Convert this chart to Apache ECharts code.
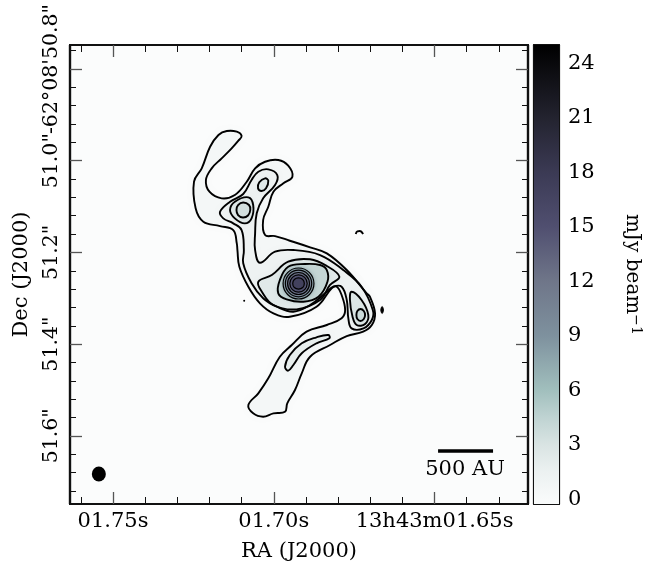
<!DOCTYPE html>
<html><head><meta charset="utf-8">
<style>html,body{margin:0;padding:0;background:#fff}#c{width:653px;height:562px}</style>
<script src="https://cdn.jsdelivr.net/npm/echarts@6/dist/echarts.min.js"></script>
</head><body><div id="c"></div>
<script>
// Axis ranges and ticks (RA seconds, Dec arcseconds)
const raRange = [1.62093, 1.76337];
const decRange = [50.7476, 51.7487];
const raMajor = [1.75, 1.70, 1.65];
const raMajorLabels = ['01.75s', '01.70s', '13h43m01.65s'];
const raMinor = [1.76, 1.74, 1.73, 1.72, 1.71, 1.69, 1.68, 1.67, 1.66, 1.64, 1.63];
const decMajor = [50.8, 51.0, 51.2, 51.4, 51.6];
const decMajorLabels = ['-62°08\'50.8"', '51.0"', '51.2"', '51.4"', '51.6"'];
const decMinor = [50.76, 50.84, 50.88, 50.92, 50.96, 51.04, 51.08, 51.12, 51.16, 51.24, 51.28, 51.32, 51.36, 51.44, 51.48, 51.52, 51.56, 51.64, 51.68, 51.72];
const cbarRange = [-0.26, 25];
const cbarTicks = [0, 3, 6, 9, 12, 15, 18, 21, 24];
const cbarValues = [0, 1.5, 3, 4.5, 6, 9, 12, 15, 18, 21, 25];
const cbarColors = ['#f8fafa', '#ecf1f1', '#d9e4e3', '#bfd3d2', '#a1bfbd', '#7e919e', '#6f7689', '#504f70', '#3b3a54', '#23232f', '#000000'];

// Contours, [RA, Dec]
const contourOuter = [[1.7146,50.9352],[1.7115,50.9367],[1.7100,50.9461],[1.7110,50.9563],[1.7131,50.9729],[1.7162,50.9948],[1.7193,51.0166],[1.7211,51.0421],[1.7200,51.0676],[1.7162,51.0820],[1.7121,51.0748],[1.7084,51.0458],[1.7058,51.0166],[1.7027,51.0022],[1.6986,50.9985],[1.6955,51.0109],[1.6942,51.0349],[1.6970,51.0493],[1.7001,51.0676],[1.7017,51.1003],[1.7033,51.1293],[1.7027,51.1621],[1.6996,51.1643],[1.6950,51.1745],[1.6887,51.1889],[1.6835,51.2020],[1.6773,51.2384],[1.6711,51.2892],[1.6701,51.2966],[1.6685,51.3328],[1.6695,51.3583],[1.6722,51.3729],[1.6773,51.3824],[1.6825,51.4020],[1.6887,51.4275],[1.6913,51.4637],[1.6934,51.5001],[1.6958,51.5291],[1.6965,51.5474],[1.7001,51.5509],[1.7033,51.5583],[1.7064,51.5509],[1.7079,51.5328],[1.7048,51.5073],[1.7017,51.4746],[1.6981,51.4275],[1.6944,51.4020],[1.6898,51.3729],[1.6835,51.3583],[1.6789,51.3437],[1.6778,51.3256],[1.6789,51.2929],[1.6804,51.2748],[1.6820,51.2783],[1.6867,51.3184],[1.6950,51.3402],[1.7001,51.3328],[1.7043,51.3110],[1.7079,51.2748],[1.7107,51.2312],[1.7113,51.1948],[1.7115,51.1802],[1.7126,51.1512],[1.7167,51.1425],[1.7219,51.1330],[1.7243,51.1038],[1.7248,51.0458],[1.7224,51.0166],[1.7198,50.9696],[1.7172,50.9438]];
const contourSecond = [[1.7167,51.1112],[1.7136,51.0894],[1.7095,51.0726],[1.7069,51.0421],[1.7048,51.0240],[1.7017,51.0188],[1.6989,51.0312],[1.6996,51.0530],[1.7033,51.0820],[1.7053,51.1147],[1.7058,51.1584],[1.7058,51.1948],[1.7043,51.2225],[1.6996,51.1985],[1.6939,51.1948],[1.6856,51.2057],[1.6784,51.2384],[1.6727,51.2748],[1.6692,51.3256],[1.6695,51.3474],[1.6721,51.3656],[1.6758,51.3656],[1.6768,51.3438],[1.6773,51.3038],[1.6789,51.2748],[1.6815,51.2748],[1.6835,51.2857],[1.6887,51.3147],[1.6939,51.3293],[1.6991,51.3184],[1.7033,51.3000],[1.7069,51.2674],[1.7095,51.2238],[1.7093,51.1948],[1.7100,51.1512],[1.7126,51.1366],[1.7157,51.1257]];
const blobLeftA = [[1.7136,51.1075],[1.7121,51.0894],[1.7079,51.0798],[1.7064,51.0966],[1.7069,51.1256],[1.7090,51.1366],[1.7121,51.1257]];
const blobLeftB = [[1.7095,51.0912],[1.7077,51.0966],[1.7073,51.1075],[1.7080,51.1195],[1.7096,51.1239],[1.7111,51.1184],[1.7116,51.1075],[1.7111,51.0966]];
const blobUpper = [[1.7027,51.0384],[1.7017,51.0436],[1.7024,51.0602],[1.7038,51.0661],[1.7049,51.0602],[1.7045,51.0471]];
const armInner = [[1.6830,51.3801],[1.6827,51.3873],[1.6867,51.3982],[1.6913,51.4200],[1.6939,51.4455],[1.6955,51.4579],[1.6965,51.4492],[1.6950,51.4238],[1.6913,51.3982],[1.6867,51.3851]];
const eyeThird = [[1.7048,51.2638],[1.7006,51.2493],[1.6955,51.2203],[1.6887,51.2150],[1.6835,51.2296],[1.6796,51.2529],[1.6825,51.2710],[1.6856,51.3038],[1.6929,51.3241],[1.7001,51.3147],[1.7037,51.2857]];
const eyeFourth = [[1.6835,51.2384],[1.6833,51.2638],[1.6861,51.2965],[1.6908,51.3075],[1.6960,51.3022],[1.6986,51.2892],[1.6981,51.2602],[1.6955,51.2312],[1.6903,51.2253],[1.6856,51.2275]];
const ring1 = [[1.6923,51.2340],[1.6889,51.2439],[1.6875,51.2678],[1.6889,51.2917],[1.6923,51.3016],[1.6957,51.2917],[1.6971,51.2678],[1.6957,51.2439]];
const ring2 = [[1.6923,51.2388],[1.6894,51.2473],[1.6882,51.2678],[1.6894,51.2883],[1.6923,51.2968],[1.6952,51.2883],[1.6964,51.2678],[1.6952,51.2473]];
const ring3 = [[1.6923,51.2438],[1.6899,51.2508],[1.6889,51.2678],[1.6899,51.2848],[1.6923,51.2918],[1.6947,51.2848],[1.6957,51.2678],[1.6947,51.2508]];
const ring4 = [[1.6923,51.2488],[1.6904,51.2544],[1.6896,51.2678],[1.6904,51.2812],[1.6923,51.2868],[1.6942,51.2812],[1.6950,51.2678],[1.6942,51.2544]];
const ring5 = [[1.6923,51.2554],[1.6910,51.2590],[1.6905,51.2678],[1.6910,51.2766],[1.6923,51.2802],[1.6936,51.2766],[1.6941,51.2678],[1.6936,51.2590]];
const blobRightA = [[1.6758,51.2857],[1.6727,51.3038],[1.6706,51.3365],[1.6716,51.3561],[1.6742,51.3583],[1.6755,51.3402],[1.6763,51.3038]];
const blobRightB = [[1.6730,51.3234],[1.6720,51.3278],[1.6716,51.3365],[1.6720,51.3452],[1.6730,51.3496],[1.6740,51.3452],[1.6743,51.3365],[1.6740,51.3278]];
const specRight = [[1.6663,51.3180],[1.6659,51.3256],[1.6663,51.3332],[1.6667,51.3256]];
const specArc = [[1.6745,51.1598],[1.6740,51.1539],[1.6732,51.1533],[1.6722,51.1598]];
const specDot = [[1.7092,51.3053]];
const beamPoint = [[1.7544,51.6833]];
const scaleBar = [[1.6489,51.6331],[1.6318,51.6331]];
const scaleLabelPoint = [[1.6405,51.6746]];

// Contour, flux level used to shade its inside, line width
const contours = [
  [contourOuter, 0.5, 1.9], [contourSecond, 1.3, 1.9], [blobLeftA, 2.6, 1.9], [blobLeftB, 3.4, 1.9], [blobUpper, 2.6, 1.9],
  [armInner, 1.9, 1.9], [eyeThird, 2.4, 1.9], [eyeFourth, 4.2, 1.9], [blobRightA, 2.8, 1.9], [blobRightB, 3.8, 1.9],
  [ring1, 7.5, 1.2], [ring2, 9.5, 1.2], [ring3, 12, 1.2], [ring4, 14.5, 1.2], [ring5, 17, 1.2], [specRight, 25, 1]
];

function hex(c){return [1,3,5].map(i=>parseInt(c.substr(i,2),16));}
function colorAt(v){
  for(let i=1;i<cbarValues.length;i++){
    if(v<=cbarValues[i]){
      const t=(v-cbarValues[i-1])/(cbarValues[i]-cbarValues[i-1]);
      const a=hex(cbarColors[i-1]),b=hex(cbarColors[i]);
      return 'rgb('+a.map((x,k)=>Math.round(x+(b[k]-x)*t)).join(',')+')';
    }
  }
  return cbarColors[cbarColors.length-1];
}
const FONT='DejaVu Serif';
const INK='#111';
const GREY='#555';
function axisBase(extra){
  return Object.assign({type:'value',scale:true,splitLine:{show:false},
    axisLine:{show:true,onZero:false,lineStyle:{color:INK,width:2.2}}},extra);
}
function ticks(values,len,color,w){return {show:true,inside:true,length:len,customValues:values,lineStyle:{color:color,width:w}};}
const noLabel={show:false};
const xBase={min:raRange[0],max:raRange[1],inverse:true};
const yBase={min:decRange[0],max:decRange[1],inverse:true};
const gridBox={left:70,top:45,width:458,height:459,outerBoundsMode:'none'};
function decLabel(values,size){
  return {show:true,customValues:values,rotate:90,margin:8,fontFamily:FONT,fontSize:size,color:'#000',hideOverlap:false,showMinLabel:true,showMaxLabel:true,
    formatter:v=>decMajorLabels[decMajor.findIndex(t=>Math.abs(t-v)<1e-6)]};
}

const xAxes=[
  axisBase({...xBase,gridIndex:0,position:'bottom',axisTick:ticks(raMajor,12,GREY,1.3),
    axisLabel:{show:true,customValues:raMajor,margin:7,fontFamily:FONT,fontSize:21,color:'#000',hideOverlap:false,showMinLabel:true,showMaxLabel:true,
      formatter:v=>raMajorLabels[raMajor.findIndex(t=>Math.abs(t-v)<1e-6)]},
    name:'RA (J2000)',nameLocation:'middle',nameGap:37,nameTextStyle:{fontFamily:FONT,fontSize:21,color:'#000'}}),
  axisBase({...xBase,gridIndex:0,position:'top',axisTick:ticks(raMajor,12,GREY,1.3),axisLabel:noLabel}),
  axisBase({...xBase,gridIndex:1,position:'bottom',axisTick:ticks(raMinor,7,INK,1),axisLabel:noLabel}),
  axisBase({...xBase,gridIndex:1,position:'top',axisTick:ticks(raMinor,7,INK,1),axisLabel:noLabel}),
  {type:'value',gridIndex:2,min:0,max:1,show:true,axisTick:{show:false},axisLabel:{show:false},splitLine:{show:false},position:'bottom',
    axisLine:{show:true,onZero:false,lineStyle:{color:INK,width:2.2}}},
  {type:'value',gridIndex:2,min:0,max:1,show:true,axisTick:{show:false},axisLabel:{show:false},splitLine:{show:false},position:'top',
    axisLine:{show:true,onZero:false,lineStyle:{color:INK,width:2.2}}}
];
const yAxes=[
  axisBase({...yBase,gridIndex:0,position:'left',axisTick:ticks(decMajor,12,GREY,1.3),
    axisLabel:decLabel(decMajor.slice(1),20.5),
    name:'Dec (J2000)',nameLocation:'middle',nameGap:38,nameRotate:90,nameTextStyle:{fontFamily:FONT,fontSize:21,color:'#000'}}),
  axisBase({...yBase,gridIndex:0,position:'right',axisTick:ticks(decMajor,12,GREY,1.3),axisLabel:noLabel}),
  axisBase({...yBase,gridIndex:1,position:'left',axisTick:ticks(decMinor,6,INK,1),axisLabel:decLabel(decMajor.slice(0,1),20.5)}),
  axisBase({...yBase,gridIndex:1,position:'right',axisTick:ticks(decMinor,6,INK,1),axisLabel:noLabel}),
  axisBase({gridIndex:2,min:cbarRange[0],max:cbarRange[1],position:'left',axisTick:ticks(cbarTicks,6,GREY,1.3),axisLabel:noLabel}),
  axisBase({gridIndex:2,min:cbarRange[0],max:cbarRange[1],position:'right',axisTick:ticks(cbarTicks,6,GREY,1.3),
    axisLabel:{show:true,customValues:cbarTicks,margin:9,fontFamily:FONT,fontSize:21,color:'#000',hideOverlap:false,showMinLabel:true,showMaxLabel:true},
    name:'{a|mJy beam}{b|\u22121}',nameLocation:'middle',nameGap:62,nameRotate:-90,
    nameTextStyle:{rich:{a:{fontFamily:FONT,fontSize:20,color:'#000'},b:{fontFamily:FONT,fontSize:14,color:'#000',verticalAlign:'top',padding:[0,0,8,0]}}}})
];

function polyItem(params,api,style){
  const c=contours[params.dataIndex];
  return {type:'polygon',shape:{points:c[0].map(p=>api.coord(p)),smooth:0.4},style:style(c)};
}
const seedData=contours.map(c=>c[0][0]);
const series=[
  {type:'custom',xAxisIndex:0,yAxisIndex:0,z:2,silent:true,clip:false,data:seedData,encode:{x:0,y:1},
    renderItem:(p,api)=>polyItem(p,api,c=>({fill:colorAt(c[1]),stroke:null,shadowBlur:c[1]<25?5:0,shadowColor:colorAt(c[1])}))},
  {type:'custom',xAxisIndex:0,yAxisIndex:0,z:3,silent:true,clip:false,data:seedData,encode:{x:0,y:1},
    renderItem:(p,api)=>polyItem(p,api,c=>({fill:null,stroke:'#000',lineWidth:c[2]}))},
  {type:'line',xAxisIndex:0,yAxisIndex:0,z:3,silent:true,data:specArc,smooth:0.4,symbol:'none',lineStyle:{color:'#000',width:1.9}},
  {type:'line',xAxisIndex:0,yAxisIndex:0,z:4,silent:true,data:scaleBar,symbol:'none',lineStyle:{color:'#000',width:3.5,cap:'butt'}},
  {type:'scatter',xAxisIndex:0,yAxisIndex:0,z:4,silent:true,data:specDot,symbolSize:2,itemStyle:{color:'#000',opacity:1}},
  {type:'scatter',xAxisIndex:0,yAxisIndex:0,z:4,silent:true,data:beamPoint,symbolSize:[14,15],itemStyle:{color:'#000',opacity:1}},
  {type:'scatter',xAxisIndex:0,yAxisIndex:0,z:4,silent:true,data:scaleLabelPoint,symbol:'circle',symbolSize:0,itemStyle:{opacity:1},
    label:{show:true,position:'inside',formatter:'500 AU',fontFamily:FONT,fontSize:21,color:'#000',opacity:1}},
  {type:'custom',xAxisIndex:4,yAxisIndex:4,z:1,silent:true,clip:false,data:[[0,cbarRange[0]]],encode:{x:0,y:1},
    renderItem:(p,api)=>{
      const a=api.coord([0,cbarRange[1]]),b=api.coord([1,cbarRange[0]]);
      const span=cbarRange[1]-cbarRange[0];
      const stops=cbarValues.map((v,i)=>({offset:Math.max(0,(cbarRange[1]-v)/span),color:cbarColors[i]})).reverse();
      return {type:'rect',shape:{x:a[0],y:a[1],width:b[0]-a[0],height:b[1]-a[1]},
        style:{fill:new echarts.graphic.LinearGradient(0,0,0,1,stops)}};
    }}
];
const chart=echarts.init(document.getElementById('c'),null,{renderer:'canvas'});
chart.setOption({
  animation:false,backgroundColor:'#fff',
  grid:[
    {...gridBox,show:true,backgroundColor:'#fbfcfc',borderWidth:0},
    {...gridBox},
    {left:534,top:45,width:25,height:459,outerBoundsMode:'none'}
  ],
  xAxis:xAxes,yAxis:yAxes,series:series
});
</script></body></html>
